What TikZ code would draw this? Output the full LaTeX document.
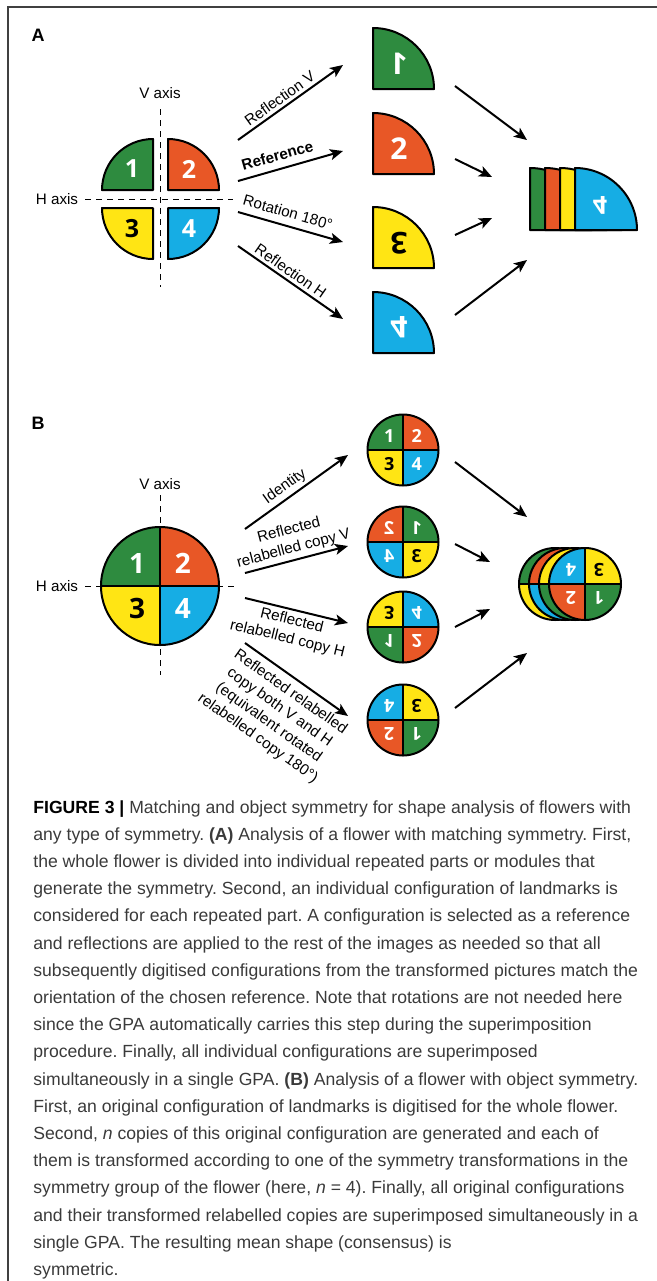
\documentclass[tikz,border=0pt]{standalone}
\usepackage{fontspec}
\usepackage{graphicx}
\setmainfont{Liberation Sans}
\newfontfamily\digitfont{Open Sans}
\usetikzlibrary{arrows.meta,calc}

\definecolor{petalgreen}{RGB}{46,139,63}
\definecolor{petalorange}{RGB}{232,87,38}
\definecolor{petalyellow}{RGB}{255,229,20}
\definecolor{petalblue}{RGB}{22,173,228}
\definecolor{captiongray}{RGB}{58,58,58}

\tikzset{
  outline/.style={draw=black, line width=1pt, line join=round},
  axisline/.style={dashed, dash pattern=on 3pt off 2.5pt, line width=0.5pt},
  arr/.style={-{Stealth[length=6.5pt,width=5.5pt,inset=1.6pt]}, line width=1pt},
  lbl/.style={font=\fontsize{7.6}{9.4}\selectfont, inner sep=1.5pt},
  panel/.style={font=\bfseries\fontsize{9}{9}\selectfont, inner sep=0pt},
  num/.style={font=\digitfont\bfseries\fontsize{#1}{#1}\selectfont, text=white, inner sep=0pt},
  caption/.style={font=\fontsize{8.8}{13.6}\selectfont\frenchspacing, text=captiongray, align=left, inner sep=0pt},
  frameline/.style={draw=black!75, line width=0.8pt},
}

% quarter of a flower: corner, start angle, radius, colour
\newcommand{\petal}[4]{\draw[outline, fill=#4] (#1) -- ++(#2:#3) arc (#2:#2+90:#3) -- cycle;}
% whole flower: centre, radius, colours UR UL LL LR
\newcommand{\disk}[6]{%
  \fill[#3] (#1) -- ++(0:#2) arc (0:90:#2) -- cycle;
  \fill[#4] (#1) -- ++(90:#2) arc (90:180:#2) -- cycle;
  \fill[#5] (#1) -- ++(180:#2) arc (180:270:#2) -- cycle;
  \fill[#6] (#1) -- ++(270:#2) arc (270:360:#2) -- cycle;
  \draw[outline] (#1) circle[radius=#2];
  \draw[outline] ($(#1)+(-#2,0)$) -- ($(#1)+(#2,0)$);
  \draw[outline] ($(#1)+(0,-#2)$) -- ($(#1)+(0,#2)$);
}
% numbers of a flower: centre, radius, size, list angle/colour/text
\newcommand{\disknums}[4]{%
  \foreach \ang/\txtc/\lab in {#4} {
    \node[num=#3, text=\txtc] (#1n\ang) at ($(#1)+(\ang:0.55*#2)$) {\lab};
  }
}

\begin{document}
\begin{tikzpicture}[x=0.5pt, y=0.5pt]
\useasboundingbox (0,0) rectangle (657,-1281);
\draw[frameline] (8,-1281) -- (8,-7) -- (657,-7);

% ---------------- A ----------------
\node[panel] (labA) at (38,-35) {A};
\node[lbl] (vaxA) at (160,-93) {V axis};
\node[lbl] (haxA) at (57,-199) {H axis};
\draw[axisline] (160,-109) -- (160,-287);
\draw[axisline] (85,-199) -- (233,-199);

\petal{153,-190}{90}{51}{petalgreen}
\petal{168,-190}{0}{51}{petalorange}
\petal{153,-208}{180}{51}{petalyellow}
\petal{168,-208}{270}{51}{petalblue}
\node[num=12.5] (nA1) at (132,-169) {1};
\node[num=12.5] (nA2) at (189,-169) {2};
\node[num=12.5, text=black] (nA3) at (132,-229) {3};
\node[num=12.5] (nA4) at (189,-229) {4};

\petal{373,-89}{0}{61}{petalgreen}
\petal{373,-174}{0}{61}{petalorange}
\petal{373,-268}{0}{61}{petalyellow}
\petal{373,-353}{0}{61}{petalblue}
\node[num=15] (mA1) at (399,-64) {\reflectbox{1}};
\node[num=15] (mA2) at (399,-149) {2};
\node[num=15, text=black] (mA3) at (399,-243) {\rotatebox{180}{3}};
\node[num=15] (mA4) at (399,-327) {\scalebox{1}[-1]{4}};

\foreach \x/\c in {530/petalgreen, 545/petalorange, 560/petalyellow, 575/petalblue}
  \petal{\x,-230}{0}{62}{\c}
\node[num=12.5] (sumA) at (600,-205) {\scalebox{1}[-1]{4}};

\coordinate (aS1) at (238,-140); \coordinate (aE1) at (343,-65);
\coordinate (aS2) at (238,-181); \coordinate (aE2) at (343,-151);
\coordinate (aS3) at (238,-212); \coordinate (aE3) at (343,-242);
\coordinate (aS4) at (238,-246); \coordinate (aE4) at (343,-319);
\draw[arr] (aS1) -- (aE1) node[lbl, pos=0.45, sloped, above] (tRV) {Reflection V};
\draw[arr] (aS2) -- (aE2) node[lbl, pos=0.41, sloped, above=2pt] (tRef) {\textbf{Reference}};
\draw[arr] (aS3) -- (aE3) node[lbl, pos=0.44, sloped, above=2pt] (tRot) {Rotation 180°};
\draw[arr] (aS4) -- (aE4) node[lbl, pos=0.45, sloped, above] (tRH) {Reflection H};

\foreach \i/\sy/\ex/\ey in {1/86/527/140, 2/159/492/177, 3/235/492/218, 4/315/527/260} {
  \coordinate (cS\i) at (455,-\sy);
  \coordinate (cE\i) at (\ex,-\ey);
  \draw[arr] (cS\i) -- (cE\i);
}

% ---------------- B ----------------
\node[panel] (labB) at (38,-423) {B};
\node[lbl] (vaxB) at (160,-484) {V axis};
\node[lbl] (haxB) at (57,-586) {H axis};
\draw[axisline] (160,-495) -- (160,-675);
\draw[axisline] (85,-586) -- (235,-586);

\coordinate (fB) at (160,-586);
\disk{fB}{59}{petalorange}{petalgreen}{petalyellow}{petalblue}
\disknums{fB}{59}{14}{45/white/2, 135/white/1, 225/black/3, 315/white/4}

\coordinate (cB1) at (403,-450);
\coordinate (cB2) at (403,-542);
\coordinate (cB3) at (403,-627);
\coordinate (cB4) at (403,-720);
\disk{cB1}{35.5}{petalorange}{petalgreen}{petalyellow}{petalblue}
\disknums{cB1}{35.5}{9}{45/white/2, 135/white/1, 225/black/3, 315/white/4}
\disk{cB2}{35.5}{petalgreen}{petalorange}{petalblue}{petalyellow}
\disknums{cB2}{35.5}{9}{45/white/\reflectbox{1}, 135/white/\reflectbox{2}, 225/white/\reflectbox{4}, 315/black/\reflectbox{3}}
\disk{cB3}{35.5}{petalblue}{petalyellow}{petalgreen}{petalorange}
\disknums{cB3}{35.5}{9}{45/white/\scalebox{1}[-1]{4}, 135/black/\scalebox{1}[-1]{3}, 225/white/\scalebox{1}[-1]{1}, 315/white/\scalebox{1}[-1]{2}}
\disk{cB4}{35.5}{petalyellow}{petalblue}{petalorange}{petalgreen}
\disknums{cB4}{35.5}{9}{45/black/\rotatebox{180}{3}, 135/white/\rotatebox{180}{4}, 225/white/\rotatebox{180}{2}, 315/white/\rotatebox{180}{1}}

% superimposed copies
\coordinate (sB1) at (555,-584);
\coordinate (sB2) at (565,-584);
\coordinate (sB3) at (575,-584);
\coordinate (sB4) at (585,-584);
\disk{sB1}{36}{petalorange}{petalgreen}{petalyellow}{petalblue}
\disk{sB2}{36}{petalgreen}{petalorange}{petalblue}{petalyellow}
\disk{sB3}{36}{petalblue}{petalyellow}{petalgreen}{petalorange}
\disk{sB4}{36}{petalyellow}{petalblue}{petalorange}{petalgreen}
\disknums{sB4}{36}{9}{45/black/\rotatebox{180}{3}, 135/white/\rotatebox{180}{4}, 225/white/\rotatebox{180}{2}, 315/white/\rotatebox{180}{1}}

\coordinate (bS1) at (245,-529); \coordinate (bE1) at (348,-455);
\coordinate (bS2) at (245,-573); \coordinate (bE2) at (348,-546);
\coordinate (bS3) at (245,-598); \coordinate (bE3) at (348,-623);
\coordinate (bS4) at (245,-643); \coordinate (bE4) at (348,-716);
\draw[arr] (bS1) -- (bE1) node[lbl, pos=0.45, sloped, above] (tId) {Identity};
\draw[arr] (bS2) -- (bE2) node[lbl, pos=0.5, sloped, above, align=center] (tCV) {Reflected\\relabelled copy V};
\draw[arr] (bS3) -- (bE3) node[lbl, pos=0.48, sloped, below, align=center] (tCH) {Reflected\\relabelled copy H};
\draw[arr] (bS4) -- (bE4) node[lbl, pos=0.52, sloped, below=1.5pt, align=center] (tCVH) {Reflected relabelled\\copy both V and H\\(equivalent rotated\\relabelled copy 180°)};

\foreach \i/\sy/\ex/\ey in {1/462/527/517, 2/544/490/562, 3/627/490/609, 4/708/527/653} {
  \coordinate (dS\i) at (455,-\sy);
  \coordinate (dE\i) at (\ex,-\ey);
  \draw[arr] (dS\i) -- (dE\i);
}

% ---------------- caption ----------------
\node[caption, anchor=north west] (cap) at (33,-800) {%
\textcolor{black}{\textbf{FIGURE 3 |}} Matching and object symmetry for shape analysis of flowers with\\
any type of symmetry. \textbf{(A)} Analysis of a flower with matching symmetry. First,\\
the whole flower is divided into individual repeated parts or modules that\\
generate the symmetry. Second, an individual configuration of landmarks is\\
considered for each repeated part. A configuration is selected as a reference\\
and reflections are applied to the rest of the images as needed so that all\\
subsequently digitised configurations from the transformed pictures match the\\
orientation of the chosen reference. Note that rotations are not needed here\\
since the GPA automatically carries this step during the superimposition\\
procedure. Finally, all individual configurations are superimposed\\
simultaneously in a single GPA. \textbf{(B)} Analysis of a flower with object symmetry.\\
First, an original configuration of landmarks is digitised for the whole flower.\\
Second, \textit{n} copies of this original configuration are generated and each of\\
them is transformed according to one of the symmetry transformations in the\\
symmetry group of the flower (here, \textit{n} = 4). Finally, all original configurations\\
and their transformed relabelled copies are superimposed simultaneously in a\\
single GPA. The resulting mean shape (consensus) is\\
symmetric.};
\end{tikzpicture}
\end{document}
